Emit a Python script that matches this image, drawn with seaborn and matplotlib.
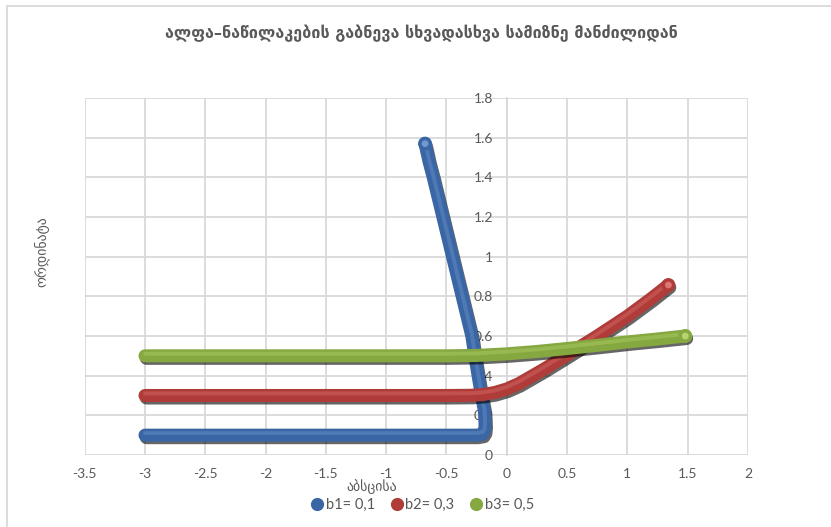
import numpy as np
import pandas as pd
import matplotlib
matplotlib.use("Agg")
import matplotlib.pyplot as plt
import matplotlib.patheffects as pe
from matplotlib.lines import Line2D
import seaborn as sns

# Trajectories of alpha particles for three impact parameters
b1_x = [-3.0, -2.5, -2.0, -1.5, -1.0, -0.5, -0.25, -0.2, -0.185, -0.18, -0.185,
        -0.21, -0.238, -0.265, -0.29, -0.33, -0.37, -0.41, -0.45, -0.49,
        -0.53, -0.57, -0.61, -0.645, -0.678]
b1_y = [0.1, 0.1, 0.1, 0.1, 0.1, 0.1, 0.1, 0.105, 0.12, 0.15, 0.22,
        0.3, 0.4, 0.5, 0.6, 0.7, 0.8, 0.9, 1.0, 1.1,
        1.2, 1.3, 1.4, 1.48, 1.57]

b2_x = [-3.0, -2.5, -2.0, -1.5, -1.0, -0.5, -0.3, -0.2, -0.1, 0.0, 0.1, 0.2,
        0.3, 0.5, 0.75, 1.0, 1.2, 1.34]
b2_y = [0.3, 0.3, 0.3, 0.3, 0.3, 0.3, 0.301, 0.305, 0.315, 0.333, 0.36, 0.395,
        0.43, 0.505, 0.6, 0.7, 0.79, 0.857]

b3_x = [-3.0, -2.5, -2.0, -1.5, -1.0, -0.5, -0.25, 0.0, 0.25, 0.5, 0.75, 1.0,
        1.25, 1.48]
b3_y = [0.5, 0.5, 0.5, 0.5, 0.5, 0.5, 0.502, 0.51, 0.522, 0.537, 0.553, 0.57,
        0.585, 0.6]

series_names = ["b1= 0,1", "b2= 0,3", "b3= 0,5"]
series_colors = ["#3a66a5", "#b03c39", "#86a840"]
series_light = ["#7fa6dc", "#e88482", "#c2df7e"]

x_ticks = [-3.5, -3, -2.5, -2, -1.5, -1, -0.5, 0, 0.5, 1, 1.5, 2]
y_ticks = [0, 0.2, 0.4, 0.6, 0.8, 1, 1.2, 1.4, 1.6, 1.8]

title = "ალფა–ნაწილაკების გაბნევა სხვადასხვა სამიზნე მანძილიდან"
x_label = "აბსცისა"
y_label = "ორდინატა"

sns.set_theme(style="white")
plt.rcParams["font.family"] = ["Lato", "DejaVu Sans"]

text_gray = "#595959"
grid_gray = "#d9d9d9"

fig = plt.figure(figsize=(8.31, 5.27), dpi=100)
ax = fig.add_axes([84.7 / 831, 1 - 455 / 527, (748 - 84.7) / 831, (455 - 98) / 527])

frames = []
for name, xs, ys in zip(series_names, [b1_x, b2_x, b3_x], [b1_y, b2_y, b3_y]):
    frames.append(pd.DataFrame({"x": xs, "y": ys, "series": name}))
df = pd.concat(frames, ignore_index=True)

lw = 9.4
for i, name in enumerate(series_names):
    sub = df[df["series"] == name]
    sns.lineplot(data=sub, x="x", y="y", sort=False, estimator=None, ax=ax,
                 color=series_colors[i], linewidth=lw, legend=False,
                 solid_capstyle="round", solid_joinstyle="round", zorder=3 + i)
    line = ax.lines[-1]
    line.set_path_effects([
        pe.SimpleLineShadow(offset=(1.0, -1.8), shadow_color="black", alpha=0.6),
        pe.Normal(),
        pe.Stroke(offset=(0, 1.5), linewidth=lw * 0.3, foreground=series_light[i], alpha=0.3),
    ])
    # glossy bead at the end of the trajectory
    ax.scatter(sub["x"].iloc[-1:], sub["y"].iloc[-1:], s=100, color=series_colors[i],
               zorder=3.5 + i, edgecolors="none")
    ax.scatter(sub["x"].iloc[-1:], sub["y"].iloc[-1:], s=24, color=series_light[i],
               zorder=3.6 + i, edgecolors="none", alpha=0.8)

ax.set_xlim(-3.5, 2)
ax.set_ylim(0, 1.8)
ax.set_xticks(x_ticks)
ax.set_yticks(y_ticks)
ax.set_xticklabels([f"{v:g}" for v in x_ticks])
ax.set_yticklabels([f"{v:g}" for v in y_ticks])
ax.grid(True, color=grid_gray, linewidth=1.3)
ax.set_axisbelow(True)

for side in ["top", "right", "bottom"]:
    ax.spines[side].set_visible(False)
ax.spines["left"].set_position(("data", 0))
ax.spines["left"].set_color(grid_gray)
ax.spines["left"].set_linewidth(1.3)

ax.tick_params(axis="both", length=0, labelsize=10, labelcolor=text_gray)
ax.tick_params(axis="x", pad=9)
ax.tick_params(axis="y", pad=10)
ax.set_xlabel("")
ax.set_ylabel("")

fig.text(421 / 831, 1 - 33 / 527, title, ha="center", va="center",
         fontsize=11.6, fontweight="bold", color=text_gray, family="DejaVu Sans")
fig.text(372 / 831, 1 - 487 / 527, x_label, ha="center", va="center",
         fontsize=10, color=text_gray, family="DejaVu Sans")
fig.text(42 / 831, 1 - 252 / 527, y_label, ha="center", va="center",
         fontsize=10, color=text_gray, rotation=90, family="DejaVu Sans")

handles = [Line2D([], [], linestyle="none", marker="o", markersize=9.5,
                  markerfacecolor=c, markeredgecolor="none") for c in series_colors]
fig.legend(handles, series_names, loc="center", bbox_to_anchor=(422 / 831, 1 - 505 / 527),
           ncol=3, frameon=False, fontsize=10.5, labelcolor=text_gray,
           handletextpad=0.1, columnspacing=1.0, handlelength=1.0)

# chart area frame
fig.add_artist(Line2D([7 / 831, 1], [1 - 6 / 527, 1 - 6 / 527], color=grid_gray, linewidth=1.3))
fig.add_artist(Line2D([7 / 831, 7 / 831], [0, 1 - 6 / 527], color=grid_gray, linewidth=1.3))

fig.savefig("out.png", dpi=100, facecolor="white")
